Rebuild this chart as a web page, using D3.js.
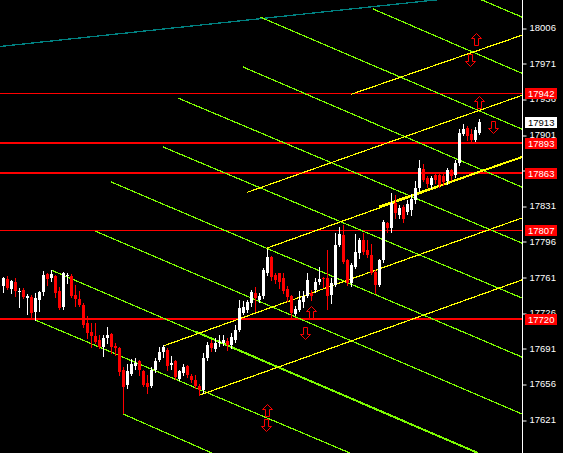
<!DOCTYPE html>
<html><head><meta charset="utf-8">
<script src="https://cdn.jsdelivr.net/npm/d3@7"></script>
<style>body{margin:0;background:#000;}svg{display:block}</style>
</head><body><svg id="c" width="563" height="453"></svg>
<script>
// ---- data ----
const opens = [17752,17759,17749,17756,17746,17748,17740,17741,17727,17738,
17746,17764,17760,17762,17747,17732,17762,17762,17743,17739,
17734,17716,17707,17703,17699,17692,17701,17705,17693,17691,
17670,17655,17666,17674,17678,17669,17657,17654,17670,17679,
17687,17689,17675,17678,17661,17667,17674,17664,17660,17654,
17650,17681,17696,17690,17696,17696,17698,17694,17699,17709,
17726,17729,17735,17745,17738,17742,17765,17781,17763,17765,
17760,17749,17742,17725,17729,17736,17742,17745,17748,17756,
17760,17760,17743,17753,17792,17802,17778,17755,17771,17785,
17797,17788,17783,17766,17753,17778,17814,17809,17834,17822,
17830,17825,17827,17837,17848,17867,17858,17851,17861,17861,
17860,17855,17866,17861,17873,17902,17907,17902,17896,17903];
const highs = [17761,17762,17758,17760,17750,17750,17744,17743,17745,17747,
17767,17765,17768,17763,17751,17766,17765,17764,17753,17747,
17735,17723,17716,17716,17704,17704,17712,17706,17696,17692,
17673,17676,17680,17681,17679,17670,17665,17673,17681,17692,
17694,17691,17683,17679,17670,17676,17675,17666,17665,17656,
17686,17697,17699,17701,17704,17704,17701,17706,17714,17738,
17737,17738,17748,17751,17745,17770,17789,17782,17765,17765,
17765,17752,17743,17733,17747,17747,17765,17748,17760,17771,
17761,17788,17760,17804,17810,17812,17779,17775,17803,17799,
17804,17797,17793,17768,17779,17817,17815,17844,17842,17832,
17832,17837,17843,17855,17876,17872,17860,17860,17864,17864,
17862,17868,17867,17876,17906,17911,17909,17906,17908,17916];
const lows = [17746,17749,17745,17742,17732,17740,17725,17720,17719,17728,
17743,17753,17757,17741,17730,17730,17755,17741,17733,17733,
17712,17701,17692,17696,17691,17683,17696,17686,17684,17665,
17627,17652,17665,17671,17665,17654,17647,17653,17668,17678,
17682,17670,17671,17661,17660,17665,17663,17658,17652,17645,
17647,17679,17688,17688,17693,17694,17689,17691,17697,17708,
17725,17727,17733,17728,17736,17740,17763,17758,17755,17750,
17745,17737,17722,17724,17728,17732,17741,17738,17746,17754,
17751,17730,17735,17752,17791,17775,17753,17752,17770,17780,
17784,17781,17764,17745,17752,17776,17805,17805,17819,17819,
17815,17823,17822,17834,17846,17855,17849,17848,17853,17849,
17851,17852,17856,17859,17871,17901,17896,17893,17895,17902];
const closes = [17760,17750,17757,17747,17747,17741,17742,17726,17740,17746,
17763,17759,17764,17745,17731,17765,17763,17742,17739,17734,
17714,17706,17703,17697,17692,17701,17704,17692,17691,17668,
17653,17669,17676,17677,17670,17655,17653,17670,17678,17687,
17692,17674,17677,17663,17669,17673,17665,17660,17654,17650,
17681,17694,17691,17696,17697,17699,17694,17702,17709,17731,
17732,17736,17746,17740,17742,17768,17781,17761,17758,17756,
17747,17741,17726,17730,17738,17742,17758,17742,17756,17759,
17759,17742,17755,17792,17803,17776,17755,17773,17786,17797,
17786,17783,17765,17753,17778,17815,17809,17834,17824,17829,
17818,17833,17838,17848,17868,17856,17852,17858,17856,17851,
17854,17866,17860,17873,17903,17906,17900,17896,17905,17913];

const tickValues = [18006,17971,17936,17901,17866,17831,17796,17761,17726,17691,17656,17621,17586];
const majorLevels = [17893,17863,17720];   // horizontal levels
const minorLevels = [17942,17807];
const currentPrice = 17913;

// trend lines: [bar1, price1, bar2, price2]
const tealLines = [[-1,17987.5,130,18042.5]];
const greenLines = [
 [116.6,18038.2,129.6,18016.5],
 [92.4,18024.4,129.6,17961.2],
 [64.1,18016.5,129.6,17906.4],
 [59.9,17967.4,129.6,17849.4],
 [43.6,17936.9,129.6,17794.4],
 [39.9,17888.8,129.6,17740.4],
 [26.9,17854.4,129.6,17682.4],
 [22.9,17806.2,129.6,17626.4],
 [11.9,17767.9,118.6,17588.1],
 [7.9,17718.8,86.6,17588.1],
 [29.9,17626.4,52.1,17588.1]];
const greenBold = [[48,17707.3,118.6,17588.1]];
const yellowLines = [
 [86.9,17940.5,129.6,17998.6],
 [60.9,17844.2,129.6,17939.5],
 [65.9,17789.5,129.6,17878.9],
 [39.9,17693.2,129.6,17819.0],
 [49.1,17645.0,129.6,17758.1]];
const yellowBold = [[94,17830.3,129.6,17878.9]];
const arrowsUp = [[118.05,17994.9],[118.9,17933.0],[76.9,17726.6],[65.95,17630.8]];
const arrowsDown = [[116.6,17974.3],[122.4,17908.4],[75.4,17706.0],[65.55,17615.6]];

// ---- chart ----
const W = 563, H = 453, axisX = 522;
const svg = d3.select('#c');
svg.append('rect').attr('width',W).attr('height',H).attr('fill','#000');
const x = d3.scaleLinear().domain([0,129]).range([3.5,519.5]);
const y = d3.scaleLinear().domain([17621,18006]).range([419.5,27.7]);

svg.append('defs').append('clipPath').attr('id','plot')
  .append('rect').attr('x',0).attr('y',0).attr('width',axisX).attr('height',H);
const g = svg.append('g').attr('clip-path','url(#plot)');

const line1 = (sel, data, color, w) => sel.selectAll(null).data(data).enter().append('line')
  .attr('x1',d=>x(d[0])).attr('y1',d=>y(d[1])).attr('x2',d=>x(d[2])).attr('y2',d=>y(d[3]))
  .attr('stroke',color).attr('stroke-width',w).attr('shape-rendering','crispEdges');

// horizontal levels
g.selectAll(null).data(minorLevels).enter().append('line')
  .attr('x1',0).attr('x2',axisX).attr('y1',d=>Math.round(y(d))+0.5).attr('y2',d=>Math.round(y(d))+0.5)
  .attr('stroke','#ff0000').attr('stroke-width',1);
g.selectAll(null).data(majorLevels).enter().append('line')
  .attr('x1',0).attr('x2',axisX).attr('y1',d=>Math.round(y(d))).attr('y2',d=>Math.round(y(d)))
  .attr('stroke','#ff0000').attr('stroke-width',2);

line1(g, tealLines, '#008080', 1.3);
line1(g, greenLines, '#7cfc00', 1.2);
line1(g, greenBold, '#7cfc00', 2);
line1(g, yellowLines, '#ffff00', 1.2);
line1(g, yellowBold, '#ffff00', 2);

// candles
const idx = d3.range(opens.length);
const col = i => closes[i] >= opens[i] ? '#ffffff' : '#ff0000';
g.selectAll('.wick').data(idx).enter().append('line')
  .attr('x1',i=>x(i)).attr('x2',i=>x(i))
  .attr('y1',i=>Math.round(y(highs[i]))).attr('y2',i=>Math.round(y(lows[i]))+1)
  .attr('stroke',col).attr('stroke-width',1);
g.selectAll('.body').data(idx).enter().append('rect')
  .attr('x',i=>x(i)-1.5).attr('width',3)
  .attr('y',i=>Math.round(y(Math.max(opens[i],closes[i]))))
  .attr('height',i=>Math.max(1,Math.round(y(Math.min(opens[i],closes[i])))-Math.round(y(Math.max(opens[i],closes[i])))))
  .attr('fill',col);

// arrows
function arrowPath(cx, cy, up){
  cx = Math.round(cx)+0.5; cy = Math.round(cy)+0.5;
  const s = up ? 1 : -1;
  const pts = [[0,-6],[5,-1],[2,-1],[2,6],[-2,6],[-2,-1],[-5,-1]];
  return 'M' + pts.map(p=>[cx+p[0], cy+s*p[1]].join(',')).join('L') + 'Z';
}
g.selectAll('.au').data(arrowsUp).enter().append('path')
  .attr('d',d=>arrowPath(x(d[0]),y(d[1]),true)).attr('fill','#000').attr('stroke','#ff0000').attr('stroke-width',1);
g.selectAll('.ad').data(arrowsDown).enter().append('path')
  .attr('d',d=>arrowPath(x(d[0]),y(d[1]),false)).attr('fill','#000').attr('stroke','#ff0000').attr('stroke-width',1);

// axis
const axisG = svg.append('g').attr('transform',`translate(${axisX+0.5},0)`)
  .call(d3.axisRight(y).tickValues(tickValues).tickSize(4).tickPadding(3).tickFormat(d3.format('d')));
axisG.select('.domain').remove();
axisG.selectAll('line').attr('stroke','#fff').attr('transform',d=>`translate(0,${Math.round(y(d))+0.5-y(d)})`);
axisG.selectAll('text').attr('fill','#fff').attr('font-family','"Liberation Sans", Arial, sans-serif').attr('font-size',9.5);
svg.append('line').attr('x1',axisX+0.5).attr('x2',axisX+0.5).attr('y1',0).attr('y2',H).attr('stroke','#fff');

// price labels
const labels = minorLevels.concat(majorLevels).map(p=>({p, bg:'#ff0000', fg:'#ffffff'}))
  .concat([{p:currentPrice, bg:'#ffffff', fg:'#000000'}]);
const lg = svg.selectAll('.lbl').data(labels).enter().append('g');
lg.append('rect').attr('x',525).attr('y',d=>Math.round(y(d.p))-5).attr('width',32).attr('height',11).attr('fill',d=>d.bg);
lg.append('text').attr('x',528).attr('y',d=>Math.round(y(d.p))+4).text(d=>d.p)
  .attr('fill',d=>d.fg).attr('font-family','"Liberation Sans", Arial, sans-serif').attr('font-size',9.5);
</script></body></html>
